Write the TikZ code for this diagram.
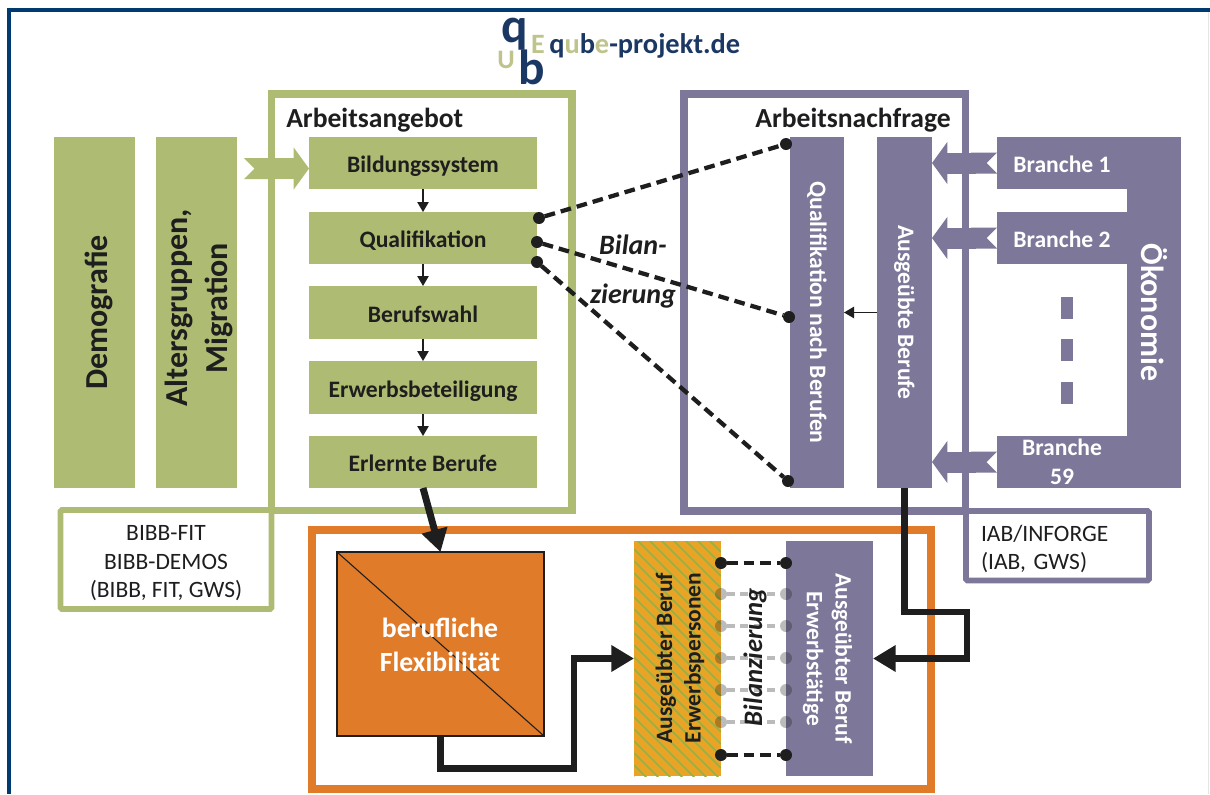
\documentclass[tikz,border=0pt]{standalone}
\usepackage{fontspec}
\setmainfont{Carlito}
\usetikzlibrary{arrows.meta,calc}
\definecolor{navy}{HTML}{003A70}
\definecolor{logonavy}{HTML}{1B3763}
\definecolor{logoolive}{HTML}{BFC48C}
\definecolor{gruen}{HTML}{AEBB72}
\definecolor{lila}{HTML}{7D7899}
\definecolor{orange}{HTML}{E07B2A}
\definecolor{hatchor}{HTML}{EBA326}
\definecolor{hatchgr}{HTML}{96B045}
\definecolor{ink}{HTML}{1E1E1E}
\tikzset{
  sized/.style 2 args={minimum width=#1*0.75pt,minimum height=#2*0.75pt,inner sep=0pt,outer sep=0pt},
  oneline/.style={text height=15.5pt,text depth=1.2pt},
  gbox/.style={fill=gruen,text=ink,align=center,font=\fontsize{17.7}{21.5}\selectfont\bfseries},
  pbox/.style={fill=lila,text=white,align=center,font=\fontsize{17.7}{21.5}\selectfont\bfseries},
  bigtext/.style={font=\fontsize{24}{30}\selectfont\bfseries},
  smalltext/.style={font=\fontsize{17.6}{21.5}\selectfont\bfseries},
  frame/.style={draw=#1,line width=5.6pt,fill=none},
  srcbox/.style={draw=#1,line width=4.2pt,fill=white,rounded corners=1pt,text=ink,font=\fontsize{17.6}{21.4}\selectfont},
  title/.style={text=ink,font=\fontsize{20.7}{24}\selectfont\bfseries,inner sep=0pt},
  thin arrow/.style={draw=ink,line width=1.1pt,-{Triangle[length=7.5pt,width=8.5pt]}},
  fat arrow/.style={draw=ink,line width=5.2pt,-{Triangle[length=17pt,width=19pt]}},
  block arrow/.style={draw=#1,line width=15.75pt,{Triangle Cap[reversed]}-{Triangle[length=11.5pt,width=31pt]}},
  dot/.style={circle,fill=ink,minimum size=9pt,inner sep=0pt,outer sep=0pt},
  gdot/.style={circle,fill=ink,fill opacity=.3,minimum size=9pt,inner sep=0pt,outer sep=0pt},
  bil/.style={draw=ink,line width=3.2pt,dash pattern=on 8pt off 4.5pt},
  gbil/.style={draw=ink,draw opacity=.3,line width=3pt,dash pattern=on 6pt off 4pt},
  italicbold/.style={text=ink,inner sep=0pt,font=\fontsize{21}{24}\selectfont\bfseries\itshape},
}
\begin{document}
\begin{tikzpicture}[x=0.75pt,y=-0.75pt]
\useasboundingbox (0,0) rectangle (1210,794);
\fill[white] (0,0) rectangle (1210,794);
% page border
\fill[navy] (7,8) rectangle (1210,12);
\fill[navy] (7,8) rectangle (11,794);
\fill[black!10] (1207.5,12) rectangle (1208.5,794);
% logo
\node[anchor=base,inner sep=0pt,text=logoolive,font=\fontsize{21}{21}\selectfont\bfseries] (lE) at (538,53) {E};
\node[anchor=base,inner sep=0pt,text=logoolive,font=\fontsize{20}{23}\selectfont\bfseries] (lU) at (506,68) {U};
\node[anchor=base,inner sep=0pt,text=logonavy,font=\fontsize{37}{37}\selectfont\bfseries] (lq) at (515,42) {q};
\node[anchor=base,inner sep=0pt,text=logonavy,font=\fontsize{37}{37}\selectfont\bfseries] (lb) at (532,84) {b};
\node[anchor=base west,inner sep=0pt,font=\fontsize{21.3}{24}\selectfont\bfseries] (lt) at (549,53)
  {\textcolor{logonavy}{q}\textcolor{logoolive}{u}\textcolor{logonavy}{b}\textcolor{logoolive}{e}\textcolor{logonavy}{-projekt.de}};
% frames and source boxes
\node[frame=gruen,sized={300.5}{416.5}] (fa) at (421.75,302.25) {};
\node[frame=lila,sized={281.5}{417}] (fn) at (824.75,302.5) {};
\node[srcbox=gruen,sized={211}{99},align=center] (bibb) at (166,559.5) {\rule{0pt}{17pt}BIBB-FIT\\BIBB-DEMOS\\(BIBB, FIT, GWS)};
\node[srcbox=lila,sized={183}{69.5},align=left,text width=114.75pt] (iab) at (1057.5,545.75) {\rule{0pt}{17pt}IAB/INFORGE\\(IAB, GWS)};
\node[draw=orange,line width=6pt,fill=none,sized={619}{259.5}] (fo) at (621.5,659.25) {};
\node[title,anchor=west] (ta) at (286,120) {Arbeitsangebot};
\node[title,anchor=west] (tn) at (755,120) {Arbeitsnachfrage};
% green column
\node[gbox,sized={351}{81},rotate=90,bigtext,text height=22pt,text depth=3pt] (demo) at (94.5,312.5) {Demografie};
\node[fill=gruen,sized={351}{81},rotate=90] (alter) at (196.5,312.5) {};
\node[text=ink,rotate=90,align=center,inner sep=0pt,bigtext] (altert) at (198.5,308) {Altersgruppen,\\Migration};
\node[gbox,oneline,sized={228}{52}] (bild) at (423,163) {Bildungssystem};
\node[gbox,oneline,sized={228}{52}] (qual) at (423,238) {Qualifikation};
\node[gbox,oneline,sized={228}{53}] (wahl) at (423,312.5) {Berufswahl};
\node[gbox,oneline,sized={228}{53}] (erw) at (423,387.5) {Erwerbsbeteiligung};
\node[gbox,oneline,sized={228}{52}] (erl) at (423,462) {Erlernte Berufe};
\draw[thin arrow] (bild) -- (qual);
\draw[thin arrow] (qual) -- (wahl);
\draw[thin arrow] (wahl) -- (erw);
\draw[thin arrow] (erw) -- (erl);
\coordinate (gs) at (244,168.5);
\draw[block arrow=gruen] (gs) -- (bild.west |- gs);
% purple columns
\node[pbox,sized={351}{54},rotate=-90] (qb) at (817,312.5) {Qualifikation nach Berufen};
\node[pbox,sized={351}{55},rotate=-90] (aus) at (904.5,312.5) {Ausgeübte Berufe};
\node[pbox,oneline,sized={130}{52}] (b1) at (1062,163) {Branche 1};
\node[pbox,oneline,sized={130}{52}] (b2) at (1062,238) {Branche 2};
\node[pbox,sized={130}{52}] (b59) at (1062,462) {Branche\\59};
\node[pbox,sized={351}{54},rotate=-90,bigtext] (oek) at (1154,312.5) {Ökonomie};
\node[fill=lila,sized={12}{22}] (d1) at (1067,308) {};
\node[fill=lila,sized={12}{22}] (d2) at (1067,350) {};
\node[fill=lila,sized={12}{22}] (d3) at (1067,393) {};
\draw[block arrow=lila] (b1.west) -- (aus.north |- b1.west);
\draw[block arrow=lila] (b2.west) -- (aus.north |- b2.west);
\draw[block arrow=lila] (b59.west) -- (aus.north |- b59.west);
\draw[thin arrow] (aus.south) -- (qb.north);
% Bilanzierung upper
\node[dot] (q1) at (539,218) {};
\node[dot] (q2) at (537,242) {};
\node[dot] (q3) at (537,262) {};
\node[dot] (n1) at (786,144) {};
\node[dot] (n2) at (789,317) {};
\node[dot] (n3) at (788,481) {};
\draw[bil] (q1) -- (n1);
\draw[bil] (q2) -- (n2);
\draw[bil] (q3) -- (n3);
\node[italicbold] (bl1) at (633,245) {Bilan-};
\node[italicbold] (bl2) at (633,296) {zierung};
% flexibility
\node[draw=ink,line width=.8pt,fill=orange,sized={207}{184}] (flex) at (440.5,644) {};
\draw[ink,line width=.8pt] (flex.north west) -- (flex.south east);
\node[text=white,align=center,inner sep=0pt,font=\fontsize{20.8}{25}\selectfont\bfseries] (flext) at (440,645) {berufliche\\Flexibilität};
\draw[fat arrow] (erl.south) -- (flex.north);
% lower columns
\node[sized={235}{87},rotate=90,fill=hatchor] (hatch) at (677.5,658.5) {};
\begin{scope}
\clip (634,541) rectangle (721,776);
\foreach \k in {-100,-88,...,240}
  \draw[hatchgr,line width=1.3pt] (634,541+\k) -- (721,628+\k);
\end{scope}
\node[rotate=90,text=ink,align=center,inner sep=0pt,smalltext] (hatcht) at (680,658) {Ausgeübter Beruf\\Erwerbspersonen};
\node[fill=lila,sized={235}{87},rotate=-90] (pur) at (829.5,658.5) {};
\node[text=white,align=center,inner sep=0pt,rotate=-90,smalltext] (purt) at (827.5,658.5) {Ausgeübter Beruf\\Erwerbstätige};
\node[italicbold,rotate=90,font=\fontsize{20}{22}\selectfont\bfseries\itshape] (bl3) at (755,657) {Bilanzierung};
% bottom dots
\foreach \n/\yy in {1/594,2/626,3/658,4/690,5/722}{
  \node[gdot] (la\n) at (721,\yy) {};
  \node[gdot] (lb\n) at (786,\yy) {};
  \draw[gbil] (la\n) -- (lb\n);
}
\node[dot] (lat) at (721,563) {};
\node[dot] (lbt) at (786,563) {};
\draw[bil] (lat) -- (lbt);
\node[dot] (lau) at (721,755) {};
\node[dot] (lbu) at (786,755) {};
\draw[bil] (lau) -- (lbu);
% thick connectors
\coordinate (c1) at (574,768.5);
\draw[fat arrow] (flex.south) |- (c1) |- (hatch.north);
\coordinate (c2) at (967,612);
\draw[fat arrow] (aus.east) |- (c2) |- (pur.north);
\end{tikzpicture}
\end{document}
